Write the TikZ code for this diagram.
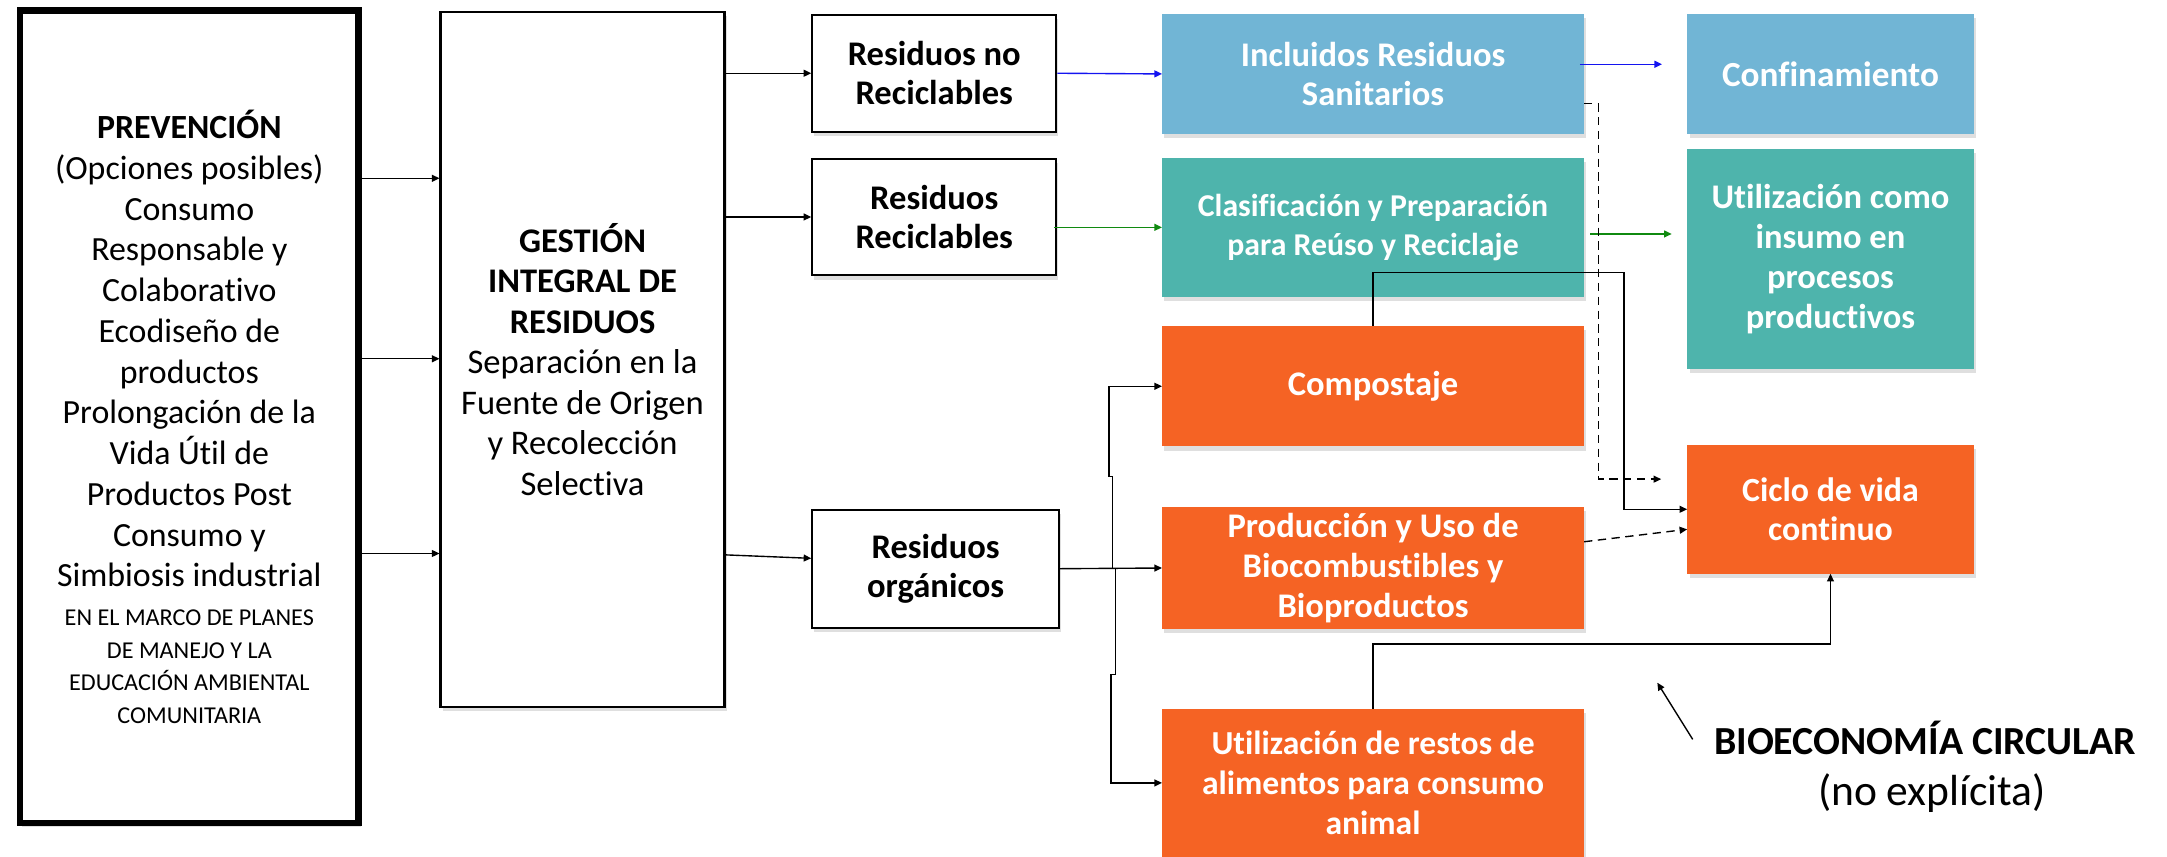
\documentclass[tikz,border=0pt]{standalone}
\usepackage{fontspec}
\setmainfont{Carlito}[Ligatures=NoCommon]
\usetikzlibrary{arrows.meta,shadows}
\definecolor{cblue}{HTML}{71B5D5}
\definecolor{cteal}{HTML}{4EB4AC}
\definecolor{corange}{HTML}{F56324}
\definecolor{cgreen}{HTML}{108A10}
\definecolor{cbl}{HTML}{1414F0}
\newcommand\smalltxt{\fontsize{17.5}{24.5}\selectfont}
\begin{document}
\begin{tikzpicture}[x=1pt,y=-1pt,
  shad/.style={drop shadow={shadow xshift=1.5pt,shadow yshift=-3pt,opacity=.25}},
  wbox/.style={draw=black,line width=1.5pt,fill=white,inner sep=0pt,align=center,
     font=\bfseries\fontsize{25}{28}\selectfont,shad},
  cbox/.style={fill=#1,inner sep=0pt,align=center,text=white,
     font=\bfseries\fontsize{25}{28.5}\selectfont,shad},
  arr/.style={-{Triangle[length=5.5pt,width=5pt]},line width=1pt},
  dsh/.style={dash pattern=on 6pt off 4pt},
]
\useasboundingbox (0,0) rectangle (1568,620);

% left boxes
\node[draw=black,line width=5pt,fill=white,minimum width=245pt,minimum height=588pt,
      inner sep=0pt,align=center,shad,
      font=\fontsize{24.5}{29.5}\selectfont] (prev) at (137,301.5)
 {\textbf{PREVENCIÓN}\\ (Opciones posibles)\\ Consumo\\ Responsable y\\ Colaborativo\\
  Ecodiseño de\\ productos\\ Prolongación de la\\ Vida Útil de\\ Productos Post\\
  Consumo y\\ Simbiosis industrial\\[-1.5pt]
  \smalltxt EN EL MARCO DE PLANES\\[-6pt] \smalltxt DE MANEJO Y LA\\[-6pt]
  \smalltxt EDUCACIÓN AMBIENTAL\\[-6pt] \smalltxt COMUNITARIA};

\node[draw=black,line width=1.5pt,fill=white,minimum width=205.5pt,minimum height=502.5pt,
      inner sep=0pt,align=center,shad,font=\fontsize{25}{29.3}\selectfont] (gest) at (421.5,260)
 {\textbf{GESTIÓN}\\ \textbf{INTEGRAL DE}\\ \textbf{RESIDUOS}\\ Separación en la\\
  Fuente de Origen\\ y Recolección\\ Selectiva};

% white boxes
\node[wbox,minimum width=176.5pt,minimum height=84.5pt] (rnr) at (676,53) {Residuos no\\ Reciclables};
\node[wbox,minimum width=176.5pt,minimum height=84.5pt] (rr) at (676,157) {Residuos\\ Reciclables};
\node[wbox,minimum width=178.5pt,minimum height=85.5pt] (ro) at (677,411.5) {Residuos\\ orgánicos};

% coloured boxes
\node[cbox=cblue,minimum width=305pt,minimum height=87pt] (inc) at (993.5,53.5) {Incluidos Residuos\\ Sanitarios};
\node[cbox=cteal,minimum width=305pt,minimum height=101pt,font=\bfseries\fontsize{23}{28.5}\selectfont] (cla) at (993.5,164.5) {Clasificación y Preparación\\ para Reúso y Reciclaje};
\node[cbox=corange,minimum width=305pt,minimum height=87pt] (com) at (993.5,279.5) {Compostaje};
\node[cbox=corange,minimum width=305pt,minimum height=88pt,font=\bfseries\fontsize{25}{29}\selectfont] (pro) at (993.5,411) {Producción y Uso de\\ Biocombustibles y\\ Bioproductos};
\node[cbox=corange,minimum width=305pt,minimum height=107pt,font=\bfseries\fontsize{24.3}{29}\selectfont] (uti) at (993.5,566.5) {Utilización de restos de\\ alimentos para consumo\\ animal};
\node[cbox=cblue,minimum width=207pt,minimum height=87pt,font=\bfseries\fontsize{25.5}{29}\selectfont] (conf) at (1324.5,53.5) {Confinamiento};
\node[cbox=cteal,minimum width=207pt,minimum height=159pt,font=\bfseries\fontsize{25}{29}\selectfont] (ins) at (1324.5,187.5) {Utilización como\\ insumo en\\ procesos\\ productivos};
\node[cbox=corange,minimum width=207pt,minimum height=93pt,font=\bfseries\fontsize{24.5}{28.5}\selectfont] (cic) at (1324.5,368.5) {Ciclo de vida\\ continuo};

% labels
\node[font=\bfseries\fontsize{28.8}{34}\selectfont,inner sep=0pt] (bio) at (1393,534) {BIOECONOMÍA CIRCULAR};
\node[font=\fontsize{31.5}{36}\selectfont,inner sep=0pt] (bio2) at (1398,574) {(no explícita)};

% helper coordinates
\coordinate (p1) at (0,129);
\coordinate (p2) at (0,259.6);
\coordinate (p3) at (0,400.5);
\coordinate (o1) at (0,401.5);
\coordinate (o2) at (0,404);
\coordinate (b1) at (0,46.5);
\coordinate (b2) at (1202.6,46.5);
\coordinate (g1) at (0,164.5);
\coordinate (g2) at (0,169.3);
\coordinate (g3) at (1209.6,169.3);
\coordinate (d1) at (0,75);
\coordinate (d2) at (1156.5,75);
\coordinate (d3) at (1202,346.7);
\coordinate (c1) at (1175,197.3);
\coordinate (q1) at (0,392);
\coordinate (q2) at (0,383);
\coordinate (u1) at (0,466);
\coordinate (j) at (805,411);
\coordinate (a1) at (1224.8,535);
\coordinate (a2) at (1199.2,494);

% prevention -> gestion
\draw[arr] (prev.east |- p1) -- (gest.west |- p1);
\draw[arr] (prev.east |- p2) -- (gest.west |- p2);
\draw[arr] (prev.east |- p3) -- (gest.west |- p3);

% gestion -> residuos
\draw[arr] (gest.east |- rnr.west) -- (rnr.west);
\draw[arr] (gest.east |- rr.west) -- (rr.west);
\draw[arr] (gest.east |- o1) -- (ro.west |- o2);

% coloured flows
\draw[arr,cbl] (rnr.east) -- (inc.west);
\draw[arr,cbl] ([xshift=-3pt]inc.east |- b1) -- (b2);
\draw[arr,cgreen] ([xshift=-2pt]rr.east |- g1) -- (cla.west |- g1);
\draw[arr,cgreen] ([xshift=4.5pt]cla.east |- g2) -- (g3);

% organic distribution
\draw[arr] (ro.east) -- (pro.west);
\draw[arr] (j) -- (805,345) -- (802.5,345) |- (com.west);
\draw[arr] (807,411) -- (807,488) -- (804,488) |- (uti.west);

% to ciclo de vida
\draw[arr,dsh] (inc.east |- d1) -- (d2) |- (d3);
\draw[arr] (com.north) |- (c1) |- (cic.west);
\draw[arr,dsh] (pro.east |- q1) -- (cic.west |- q2);
\draw[arr] (uti.north) -- (uti.north |- u1) -| (cic.south);

% bioeconomia pointer
\draw[arr] (a1) -- (a2);
\end{tikzpicture}
\end{document}
